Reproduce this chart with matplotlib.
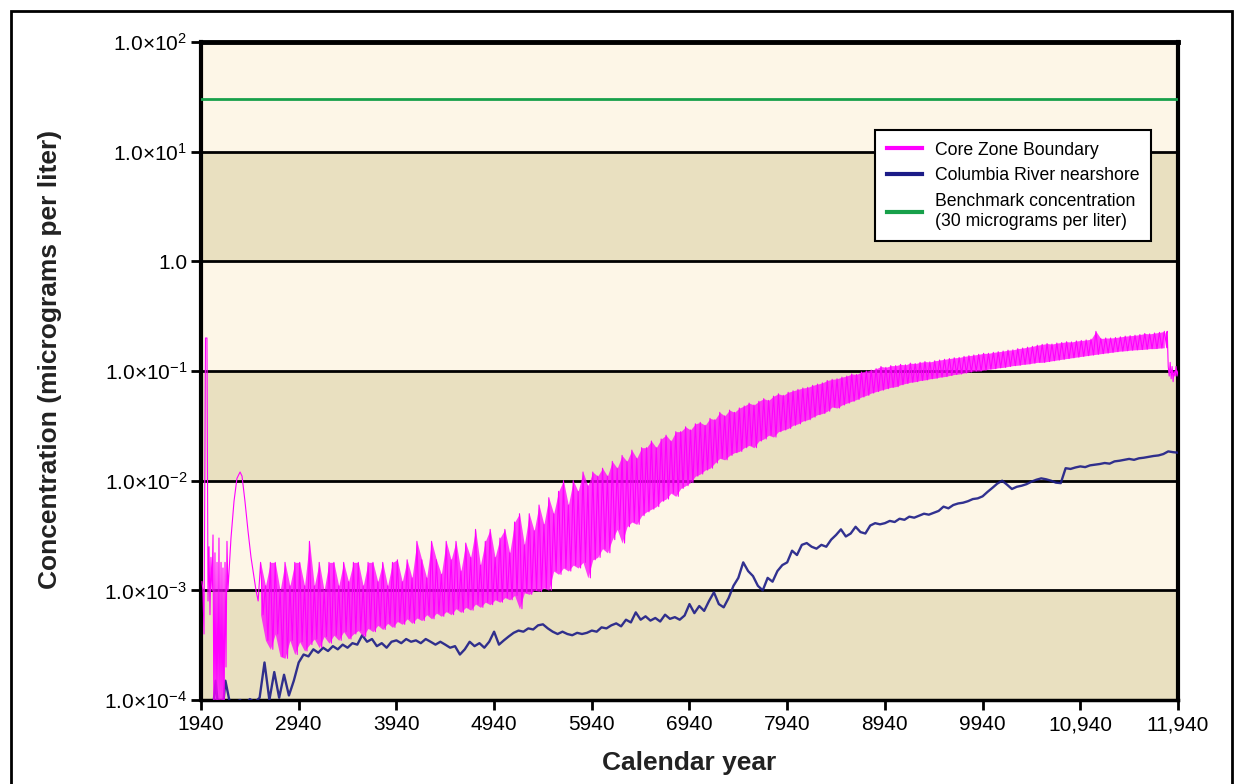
"""
Core Zone Boundary vs Columbia River nearshore concentrations (log scale).
"""

import matplotlib.pyplot as plt
from matplotlib.patches import Rectangle
import numpy as np

plt.rcParams['font.family'] = ['Liberation Sans', 'DejaVu Sans']
plt.rcParams['mathtext.fontset'] = 'custom'
plt.rcParams['mathtext.rm'] = 'Liberation Sans'
plt.rcParams['mathtext.it'] = 'Liberation Sans:italic'
plt.rcParams['mathtext.bf'] = 'Liberation Sans:bold'

# ---- data --------------------------------------------------------------
# early transient of the core zone curve (years, micrograms per liter)
early_years = [1950, 1960, 1971, 1986, 2001, 2012, 2022, 2032, 2042, 2053,
               2063, 2073, 2083, 2094, 2104, 2114, 2124, 2134, 2145, 2155,
               2165, 2175, 2186, 2196, 2206, 2216, 2247, 2278, 2308, 2340,
               2360, 2390, 2421, 2452, 2483, 2503, 2525]
early_conc = [1.2e-3, 1.0e-3, 4.0e-4, 2.0e-1, 2.0e-1, 8.0e-4, 2.5e-3, 6.0e-4, 2.0e-3, 1.0e-3,
              3.2e-3, 5e-5, 2.2e-3, 5e-5, 1.8e-3, 5e-5, 3.0e-3, 5e-5, 1.8e-3, 5e-5,
              1.6e-3, 5e-5, 1.8e-3, 2.0e-4, 2.8e-3, 1.0e-3, 3.0e-3, 6.5e-3, 1.05e-2, 1.2e-2,
              1.1e-2, 6.5e-3, 3.5e-3, 2.0e-3, 1.3e-3, 1.0e-3, 8.0e-4]

# core zone boundary: upper / lower values of the noisy band every 50 years
core_years = np.arange(2550, 11801, 50)
core_hi = [
    1.8e-3, 1.1e-3, 1.8e-3, 1.8e-3, 1.0e-3, 1.8e-3, 1.1e-3, 1.8e-3, 1.8e-3, 1.1e-3,
    2.8e-3, 1.1e-3, 1.8e-3, 1.0e-3, 1.8e-3, 1.8e-3, 1.1e-3, 1.8e-3, 1.2e-3, 1.8e-3,
    1.8e-3, 1.1e-3, 1.8e-3, 1.8e-3, 1.2e-3, 1.8e-3, 1.1e-3, 1.8e-3, 1.9e-3, 1.2e-3,
    1.9e-3, 1.3e-3, 2.8e-3, 1.9e-3, 1.3e-3, 2.8e-3, 1.9e-3, 1.4e-3, 2.8e-3, 1.9e-3,
    2.8e-3, 1.5e-3, 2.7e-3, 2.0e-3, 3.6e-3, 1.7e-3, 2.8e-3, 3.6e-3, 2.0e-3, 3.0e-3,
    3.6e-3, 2.2e-3, 4.2e-3, 5.0e-3, 2.6e-3, 5.0e-3, 3.5e-3, 6.0e-3, 4.0e-3, 7.0e-3,
    5.0e-3, 8.0e-3, 1.0e-2, 6.0e-3, 1.0e-2, 8.0e-3, 1.2e-2, 9.0e-3, 1.2e-2, 1.1e-2,
    1.3e-2, 1.1e-2, 1.5e-2, 1.3e-2, 1.7e-2, 1.5e-2, 1.9e-2, 1.6e-2, 2.0e-2, 2.0e-2,
    2.3e-2, 2.0e-2, 2.4e-2, 2.6e-2, 2.3e-2, 2.8e-2, 2.8e-2, 3.1e-2, 2.9e-2, 3.3e-2,
    3.4e-2, 3.2e-2, 3.7e-2, 3.6e-2, 4.2e-2, 3.9e-2, 4.4e-2, 4.2e-2, 4.6e-2, 4.8e-2,
    5.1e-2, 4.9e-2, 5.3e-2, 5.6e-2, 5.4e-2, 5.9e-2, 6.2e-2, 6.0e-2, 6.4e-2, 6.6e-2,
    6.8e-2, 7.0e-2, 7.1e-2, 7.4e-2, 7.6e-2, 7.8e-2, 8.2e-2, 8.4e-2, 8.5e-2, 8.8e-2,
    9.0e-2, 9.4e-2, 9.3e-2, 9.8e-2, 1.0e-1, 1.02e-1, 1.05e-1, 1.1e-1, 1.08e-1, 1.12e-1,
    1.12e-1, 1.15e-1, 1.14e-1, 1.18e-1, 1.17e-1, 1.2e-1, 1.22e-1, 1.21e-1, 1.24e-1, 1.26e-1,
    1.28e-1, 1.3e-1, 1.32e-1, 1.33e-1, 1.36e-1, 1.38e-1, 1.4e-1, 1.42e-1, 1.45e-1, 1.45e-1,
    1.48e-1, 1.5e-1, 1.52e-1, 1.55e-1, 1.56e-1, 1.6e-1, 1.62e-1, 1.65e-1, 1.68e-1, 1.72e-1,
    1.75e-1, 1.78e-1, 1.76e-1, 1.8e-1, 1.82e-1, 1.85e-1, 1.84e-1, 1.88e-1, 1.9e-1, 1.92e-1,
    1.95e-1, 2.3e-1, 1.98e-1, 2.0e-1, 2.0e-1, 2.02e-1, 2.05e-1, 2.08e-1, 2.1e-1, 2.12e-1,
    2.15e-1, 2.2e-1, 2.18e-1, 2.22e-1, 2.25e-1, 2.3e-1,
]
core_lo = [
    6.0e-4, 3.5e-4, 2.9e-4, 4.0e-4, 2.5e-4, 2.4e-4, 3.5e-4, 2.6e-4, 3.4e-4, 2.8e-4,
    3.2e-4, 3.6e-4, 3.0e-4, 3.8e-4, 3.3e-4, 3.9e-4, 3.5e-4, 4.2e-4, 3.6e-4, 4.0e-4,
    4.3e-4, 3.8e-4, 4.5e-4, 4.2e-4, 4.8e-4, 4.4e-4, 5.0e-4, 4.6e-4, 5.2e-4, 4.9e-4,
    5.5e-4, 5.0e-4, 5.6e-4, 5.3e-4, 6.0e-4, 5.5e-4, 6.2e-4, 5.8e-4, 6.4e-4, 6.0e-4,
    6.8e-4, 6.3e-4, 7.0e-4, 6.6e-4, 7.5e-4, 7.0e-4, 7.8e-4, 7.4e-4, 8.2e-4, 7.8e-4,
    8.6e-4, 8.2e-4, 9.0e-4, 6.8e-4, 9.5e-4, 9.2e-4, 1.0e-3, 9.8e-4, 1.05e-3, 1.0e-3,
    1.5e-3, 1.4e-3, 1.6e-3, 1.5e-3, 1.7e-3, 1.6e-3, 1.8e-3, 1.3e-3, 1.9e-3, 2.0e-3,
    2.4e-3, 2.2e-3, 2.9e-3, 3.6e-3, 2.7e-3, 3.8e-3, 4.2e-3, 4.0e-3, 4.8e-3, 5.2e-3,
    5.5e-3, 5.8e-3, 6.5e-3, 6.8e-3, 7.7e-3, 7.2e-3, 8.5e-3, 9.0e-3, 9.6e-3, 1.1e-2,
    1.15e-2, 1.25e-2, 1.3e-2, 1.45e-2, 1.6e-2, 1.55e-2, 1.7e-2, 1.8e-2, 1.85e-2, 2.0e-2,
    2.1e-2, 2.0e-2, 2.3e-2, 2.4e-2, 2.6e-2, 2.5e-2, 2.8e-2, 2.9e-2, 3.0e-2, 3.2e-2,
    3.3e-2, 3.5e-2, 3.6e-2, 3.8e-2, 4.0e-2, 4.1e-2, 4.3e-2, 4.7e-2, 4.6e-2, 4.9e-2,
    5.1e-2, 5.3e-2, 5.5e-2, 5.8e-2, 6.0e-2, 6.3e-2, 6.5e-2, 6.7e-2, 6.9e-2, 7.1e-2,
    7.2e-2, 7.5e-2, 7.7e-2, 7.9e-2, 8.0e-2, 8.2e-2, 8.3e-2, 8.5e-2, 8.6e-2, 8.8e-2,
    8.9e-2, 9.1e-2, 9.3e-2, 9.4e-2, 9.6e-2, 9.8e-2, 1.0e-1, 1.0e-1, 1.02e-1, 1.04e-1,
    1.05e-1, 1.07e-1, 1.08e-1, 1.1e-1, 1.12e-1, 1.13e-1, 1.15e-1, 1.16e-1, 1.18e-1, 1.2e-1,
    1.2e-1, 1.22e-1, 1.24e-1, 1.26e-1, 1.28e-1, 1.3e-1, 1.32e-1, 1.34e-1, 1.36e-1, 1.38e-1,
    1.4e-1, 1.42e-1, 1.44e-1, 1.46e-1, 1.48e-1, 1.5e-1, 1.52e-1, 1.53e-1, 1.55e-1, 1.56e-1,
    1.57e-1, 1.58e-1, 1.6e-1, 1.6e-1, 1.62e-1, 1.63e-1,
]

# final drop of the core zone curve
tail_years = [11820, 11830, 11840, 11850, 11860, 11870, 11880, 11890, 11900,
              11910, 11920, 11930, 11940]
tail_conc = [2.2e-1, 2.3e-1, 1.1e-1, 9.0e-2, 1.2e-1, 8.5e-2, 1.1e-1, 8.0e-2, 1.0e-1,
             9.0e-2, 1.1e-1, 9.0e-2, 1.0e-1]

# columbia river nearshore, every 50 years from 1940
river_years = np.arange(1940, 11941, 50)
river_conc = [
    5e-5, 5e-5, 5e-5, 1.5e-4, 5e-5, 1.5e-4, 9e-5, 9.5e-5, 1.0e-4, 9e-5,
    1.02e-4, 9.5e-5, 1.05e-4, 2.2e-4, 1.0e-4, 1.8e-4, 1.05e-4, 1.7e-4, 1.1e-4, 1.5e-4,
    2.2e-4, 2.6e-4, 2.5e-4, 2.9e-4, 2.7e-4, 3.0e-4, 2.8e-4, 3.1e-4, 2.9e-4, 3.2e-4,
    3.0e-4, 3.3e-4, 3.2e-4, 3.9e-4, 3.4e-4, 3.6e-4, 3.1e-4, 3.3e-4, 3.0e-4, 3.4e-4,
    3.5e-4, 3.3e-4, 3.6e-4, 3.4e-4, 3.5e-4, 3.3e-4, 3.6e-4, 3.4e-4, 3.2e-4, 3.4e-4,
    3.2e-4, 3.0e-4, 3.1e-4, 2.6e-4, 2.9e-4, 3.4e-4, 3.1e-4, 3.3e-4, 3.0e-4, 3.4e-4,
    4.2e-4, 3.2e-4, 3.5e-4, 3.8e-4, 4.1e-4, 4.3e-4, 4.2e-4, 4.5e-4, 4.4e-4, 4.8e-4,
    4.9e-4, 4.5e-4, 4.2e-4, 4.0e-4, 4.2e-4, 4.0e-4, 3.9e-4, 4.1e-4, 4.0e-4, 4.1e-4,
    4.3e-4, 4.2e-4, 4.6e-4, 4.5e-4, 4.8e-4, 5.0e-4, 4.7e-4, 5.4e-4, 5.1e-4, 6.3e-4,
    5.4e-4, 5.8e-4, 5.3e-4, 5.6e-4, 5.2e-4, 6.0e-4, 5.5e-4, 5.7e-4, 5.4e-4, 5.9e-4,
    7.5e-4, 6.2e-4, 7.2e-4, 6.5e-4, 8.0e-4, 9.6e-4, 7.5e-4, 7.0e-4, 8.5e-4, 1.1e-3,
    1.3e-3, 1.8e-3, 1.5e-3, 1.35e-3, 1.1e-3, 1.0e-3, 1.3e-3, 1.2e-3, 1.5e-3, 1.7e-3,
    1.8e-3, 2.3e-3, 2.1e-3, 2.6e-3, 2.7e-3, 2.5e-3, 2.4e-3, 2.6e-3, 2.5e-3, 2.9e-3,
    3.2e-3, 3.6e-3, 3.1e-3, 3.3e-3, 3.8e-3, 3.4e-3, 3.3e-3, 3.9e-3, 4.1e-3, 4.0e-3,
    4.1e-3, 4.3e-3, 4.2e-3, 4.5e-3, 4.4e-3, 4.7e-3, 4.6e-3, 4.8e-3, 5.0e-3, 4.9e-3,
    5.1e-3, 5.3e-3, 5.8e-3, 5.6e-3, 6.0e-3, 6.2e-3, 6.3e-3, 6.5e-3, 6.8e-3, 6.9e-3,
    7.2e-3, 7.9e-3, 8.6e-3, 9.4e-3, 1.0e-2, 9.2e-3, 8.4e-3, 8.8e-3, 9.0e-3, 9.3e-3,
    9.8e-3, 1.02e-2, 1.05e-2, 1.03e-2, 1.0e-2, 9.6e-3, 9.5e-3, 1.3e-2, 1.28e-2, 1.32e-2,
    1.35e-2, 1.33e-2, 1.38e-2, 1.4e-2, 1.42e-2, 1.45e-2, 1.43e-2, 1.5e-2, 1.52e-2, 1.55e-2,
    1.58e-2, 1.55e-2, 1.6e-2, 1.62e-2, 1.65e-2, 1.68e-2, 1.7e-2, 1.75e-2, 1.85e-2, 1.82e-2,
    1.8e-2,
]

benchmark = 30.0

x_ticks = list(range(1940, 11941, 1000))
x_labels = ['1940', '2940', '3940', '4940', '5940', '6940', '7940', '8940',
            '9940', '10,940', '11,940']
y_ticks = [1e-4, 1e-3, 1e-2, 1e-1, 1e0, 1e1, 1e2]
y_labels = [r'$\mathregular{1.0{\times}10^{-4}}$', r'$\mathregular{1.0{\times}10^{-3}}$',
            r'$\mathregular{1.0{\times}10^{-2}}$', r'$\mathregular{1.0{\times}10^{-1}}$',
            '1.0', r'$\mathregular{1.0{\times}10^{1}}$', r'$\mathregular{1.0{\times}10^{2}}$']

MAGENTA = '#ff00ff'
NAVY = '#1c1c87'
GREEN = '#17a04a'

# ---- figure -------------------------------------------------------------
fig = plt.figure(figsize=(12.43, 7.84), dpi=100)
ax = fig.add_axes([0.1617, 0.1071, 0.7860, 0.8393])

cream = '#fdf6e7'
tan = '#e9e0c0'
for i in range(len(y_ticks) - 1):
    ax.axhspan(y_ticks[i], y_ticks[i + 1], color=tan if i % 2 == 0 else cream,
               zorder=0, lw=0)
for yv in y_ticks[1:-1]:
    ax.axhline(yv, color='black', lw=2.0, zorder=1)

# core zone: zig-zag between upper and lower band values
zz_x = np.empty(2 * len(core_years))
zz_y = np.empty(2 * len(core_years))
zz_x[0::2] = core_years
zz_x[1::2] = core_years + 25
zz_y[0::2] = core_hi
zz_y[1::2] = core_lo
core_x = np.concatenate([early_years, zz_x, tail_years])
core_y = np.concatenate([early_conc, zz_y, tail_conc])

ax.plot(river_years, river_conc, color=NAVY, lw=1.7, alpha=0.9, zorder=3)
ax.fill_between(core_years, core_lo, core_hi, color=MAGENTA, alpha=0.75,
                lw=0, zorder=4)
ax.plot(core_x, core_y, color=MAGENTA, lw=0.8, zorder=4)
ax.axhline(benchmark, color=GREEN, lw=2.0, zorder=5)

ax.set_yscale('log')
ax.set_xlim(1940, 11940)
ax.set_ylim(1e-4, 1e2)
ax.set_xticks(x_ticks, x_labels)
ax.set_yticks(y_ticks, y_labels)
ax.yaxis.set_minor_locator(plt.NullLocator())
ax.tick_params(axis='both', direction='out', length=7, width=2,
               labelsize=15, colors='black')
ax.tick_params(axis='y', pad=3)
ax.tick_params(axis='x', pad=4)

ax.spines['top'].set_linewidth(3.5)
ax.spines['left'].set_linewidth(3.0)
ax.spines['right'].set_linewidth(3.0)
ax.spines['bottom'].set_linewidth(2.5)

ax.set_ylabel('Concentration (micrograms per liter)', fontsize=19,
              fontweight='bold', color='#222222')
ax.yaxis.set_label_coords(-0.142, 0.518)
ax.set_xlabel('Calendar year', fontsize=19, fontweight='bold', color='#222222')
ax.xaxis.set_label_coords(0.5, -0.078)

handles = [plt.Line2D([], [], color=MAGENTA, lw=3),
           plt.Line2D([], [], color=NAVY, lw=3),
           plt.Line2D([], [], color=GREEN, lw=3)]
leg = ax.legend(handles, ['Core Zone Boundary', 'Columbia River nearshore',
                          'Benchmark concentration\n(30 micrograms per liter)'],
                loc='upper left', bbox_to_anchor=(0.690, 0.866), fontsize=12.7,
                frameon=True, fancybox=False, edgecolor='black',
                framealpha=1, borderaxespad=0,
                handlelength=2.0, handletextpad=0.75, borderpad=0.65,
                labelspacing=0.5)
leg.get_frame().set_linewidth(1.5)
leg.set_zorder(10)

# outer border round the figure
fig.patches.append(Rectangle((11 / 1243, -0.02), 1221 / 1243, 1.02 - 11 / 784,
                             transform=fig.transFigure, fill=False,
                             edgecolor='black', lw=2))

fig.savefig('out.png', dpi=100)
